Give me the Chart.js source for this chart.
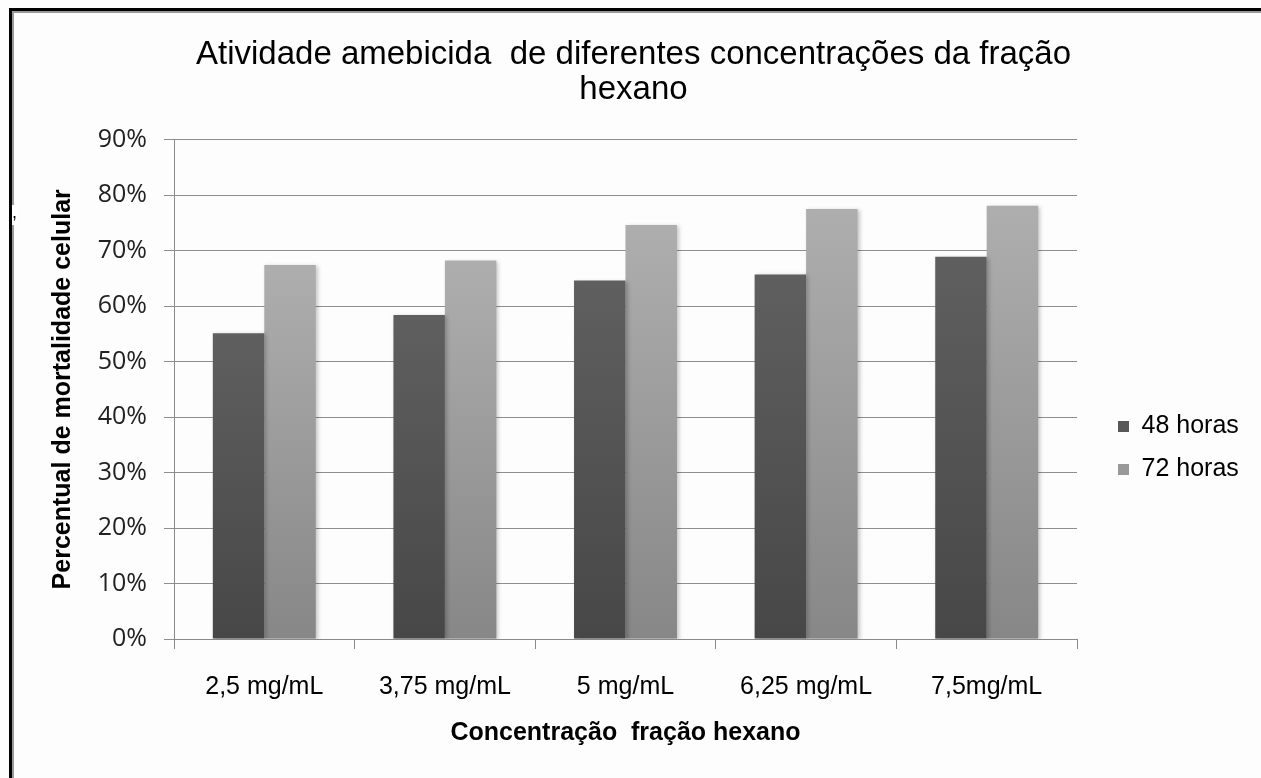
<!DOCTYPE html>
<html>
<head>
<meta charset="utf-8">
<script src="https://cdn.jsdelivr.net/npm/chart.js@4.4.0/dist/chart.umd.min.js"></script>
<style>
  html,body{margin:0;padding:0;background:#fff;}
  #wrap{position:relative;width:1261px;height:778px;background:#fdfdfd;overflow:hidden;}
  canvas{position:absolute;left:0;top:0;}
  #frameTop{position:absolute;left:9px;top:8px;right:0;height:3px;background:#000;}
  #frameTop2{position:absolute;left:12px;top:11px;right:0;height:2px;background:#9a9a9a;}
  #frameLeft{position:absolute;left:9px;top:8px;bottom:0;width:3px;background:#000;}
  #frameLeft2{position:absolute;left:12px;top:11px;bottom:0;width:2px;background:#9a9a9a;}
  #comma{position:absolute;left:12px;top:205px;width:6px;height:20px;background:#fff;font:18px 'Liberation Sans',Arial,sans-serif;color:#000;line-height:14px;}
</style>
</head>
<body>
<div id="wrap">
  <canvas id="c" width="1261" height="778"></canvas>
  <div id="frameTop"></div><div id="frameTop2"></div>
  <div id="frameLeft"></div><div id="frameLeft2"></div>
  <div id="comma">,</div>
</div>
<script>
const categories = ['2,5 mg/mL', '3,75 mg/mL', '5 mg/mL', '6,25 mg/mL', '7,5mg/mL'];
const series48 = [55.1, 58.4, 64.6, 65.7, 68.9];
const series72 = [67.4, 68.2, 74.6, 77.5, 78.1];
const seriesNames = ['48 horas', '72 horas'];
const yTicks = [0, 10, 20, 30, 40, 50, 60, 70, 80, 90];

const FONT = "'Liberation Sans', Arial, sans-serif";

function barGradient(top, bottom, solid) {
  return function(ctx) {
    const chart = ctx.chart;
    const ca = chart.chartArea;
    if (!ca || ctx.dataIndex === undefined || ctx.parsed === undefined) return solid;
    const ys = chart.scales.y;
    const y1 = ys.getPixelForValue(ctx.parsed.y);
    const y0 = ys.getPixelForValue(0);
    if (!isFinite(y1) || !isFinite(y0) || y0 === y1) return solid;
    const g = chart.ctx.createLinearGradient(0, y1, 0, y0);
    g.addColorStop(0, top);
    g.addColorStop(1, bottom);
    return g;
  };
}

const LEGEND_PAD = 18;
const legendShift = {
  id: 'legendShift',
  beforeLayout(chart) {
    const lg = chart.legend;
    if (!lg || lg._fixedFit) return;
    const orig = lg.fit.bind(lg);
    lg.fit = function() { orig(); this.width = 150; };
    lg._fixedFit = true;
  },
  afterLayout(chart) {
    const lg = chart.legend;
    if (!lg) return;
    const w = lg.right - lg.left;
    const h = lg.bottom - lg.top;
    lg.left = 1118 - LEGEND_PAD;
    lg.right = lg.left + w;
    const targetCenter = 448;
    const cur = (lg.top + lg.bottom) / 2;
    lg.top += targetCenter - cur;
    lg.bottom = lg.top + h;
  },
  beforeDatasetsDraw(chart) {
    const c = chart.ctx;
    c.save();
    c.shadowColor = 'rgba(0,0,0,0.22)';
    c.shadowBlur = 4;
    c.shadowOffsetX = 2;
    c.shadowOffsetY = 1;
  },
  afterDatasetsDraw(chart) {
    chart.ctx.restore();
  }
};

new Chart(document.getElementById('c'), {
  type: 'bar',
  data: {
    labels: categories,
    datasets: [
      {
        label: seriesNames[0],
        data: series48,
        backgroundColor: barGradient('#5f5f5f', '#474747', '#555555'),
        borderWidth: 0,
        categoryPercentage: 0.57,
        barPercentage: 1.0
      },
      {
        label: seriesNames[1],
        data: series72,
        backgroundColor: barGradient('#aeaeae', '#878787', '#9b9b9b'),
        borderWidth: 0,
        categoryPercentage: 0.57,
        barPercentage: 1.0
      }
    ]
  },
  options: {
    responsive: false,
    animation: false,
    devicePixelRatio: 1,
    layout: { padding: { left: 40, right: 34, top: 30, bottom: 18 } },
    plugins: {
      tooltip: { enabled: false },
      title: {
        display: true,
        text: ['Atividade amebicida  de diferentes concentrações da fração', 'hexano'],
        color: '#000',
        font: { family: FONT, size: 33, weight: 'normal', lineHeight: 1.07 },
        padding: { top: 7, bottom: 32 }
      },
      legend: {
        position: 'right',
        labels: {
          color: '#000',
          font: { family: FONT, size: 25 },
          boxWidth: 11,
          boxHeight: 11,
          padding: LEGEND_PAD
        }
      }
    },
    scales: {
      x: {
        grid: { display: true, drawOnChartArea: false, drawTicks: true, tickLength: 10, color: '#8a8a8a', offset: true },
        border: { color: '#8a8a8a' },
        ticks: { color: '#000', font: { family: FONT, size: 25 }, padding: 23 },
        title: {
          display: true,
          text: 'Concentração  fração hexano',
          color: '#000',
          font: { family: FONT, size: 25, weight: 'bold' },
          padding: { top: 10, bottom: 12 }
        },
        afterFit(scale) { scale.height = 121; }
      },
      y: {
        min: 0,
        max: 90,
        afterBuildTicks(scale) { scale.ticks = yTicks.map(v => ({ value: v })); },
        grid: { color: '#8f8f8f', tickLength: 10, lineWidth: 1 },
        border: { color: '#8a8a8a' },
        ticks: {
          color: '#222',
          font: { family: "'Open Sans', 'Noto Sans', sans-serif", size: 25 },
          padding: 17,
          callback: (v) => v + '%'
        },
        title: {
          display: true,
          text: 'Percentual de mortalidade celular',
          color: '#000',
          font: { family: FONT, size: 25, weight: 'bold' },
          padding: { top: 8, bottom: 4 }
        },
        afterFit(scale) { scale.width = 134; }
      }
    }
  },
  plugins: [legendShift]
});
</script>
</body>
</html>
